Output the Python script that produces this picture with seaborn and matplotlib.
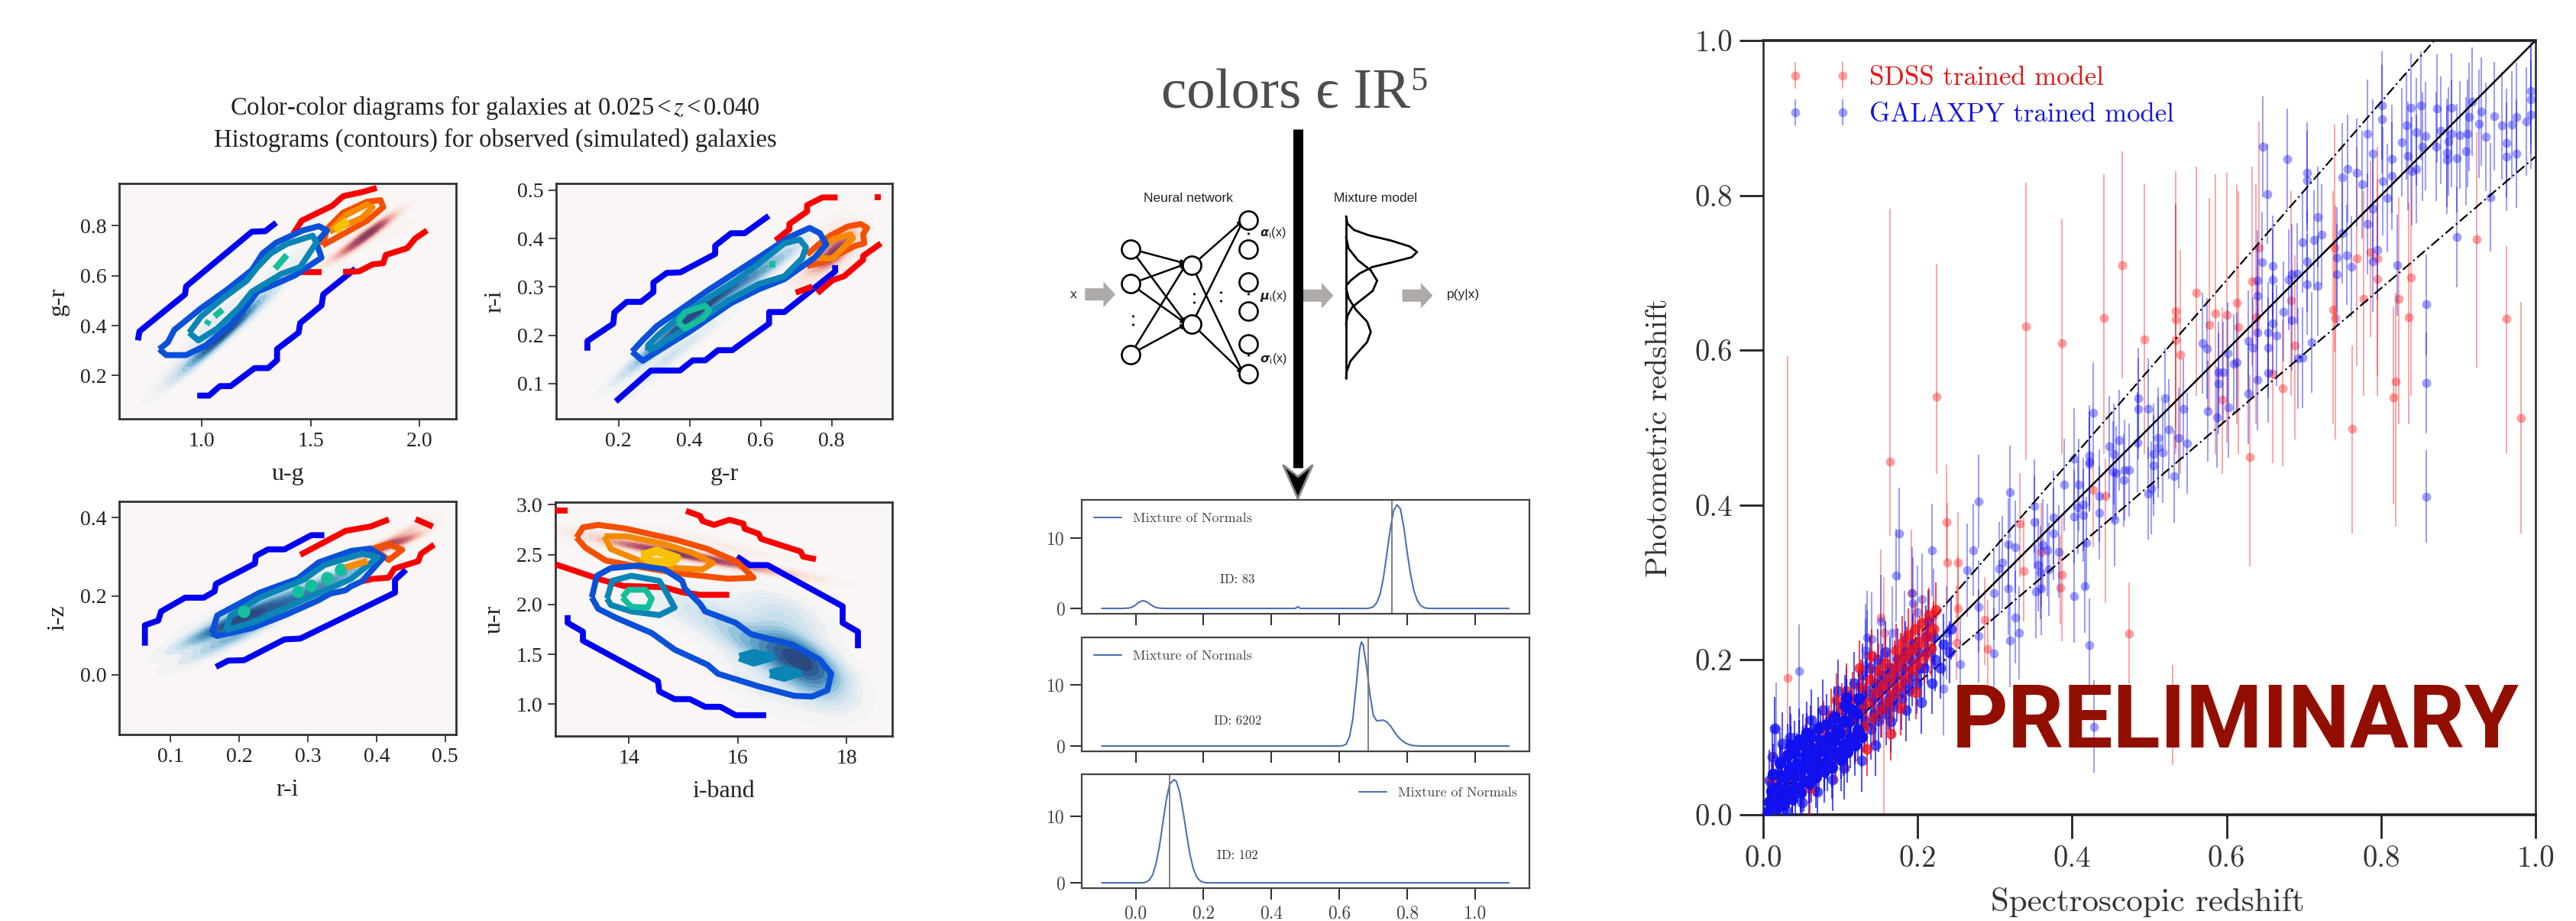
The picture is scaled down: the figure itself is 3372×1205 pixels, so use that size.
import numpy as np
import matplotlib
matplotlib.use('Agg')
import matplotlib.pyplot as plt
import seaborn as sns

FIG_W, FIG_H = 3373, 1205

# ---- colour-colour panels, (x, y)
p1_blue_up = [(.708,.341),(.715,.377),(.924,.525),(.929,.557),(1.231,.776),(1.292,.778),(1.342,.812)]
p1_blue_lo = [(.98,.120),(1.034,.120),(1.084,.158),(1.133,.158),(1.243,.230),(1.305,.230),(1.346,.262),(1.346,.306),(1.445,.372),(1.452,.410),(1.550,.481),(1.558,.525),(1.705,.628)]
p1_red_up = [(1.42,.767),(1.459,.82),(1.6,.88),(1.649,.918),(1.735,.934),(1.803,.951)]
p1_red_lo1 = [(1.428,.615),(1.55,.615)]
p1_red_lo2 = [(1.649,.615),(1.722,.617),(1.784,.645),(1.833,.650),(1.845,.683),(1.943,.710),(1.98,.749),(2.034,.781)]
p1_main = [(.806,.306),(.838,.282),(.929,.282),(1.022,.322),(1.133,.404),(1.199,.470),(1.256,.536),(1.342,.568),(1.428,.601),(1.550,.672),(1.526,.732),(1.575,.781),(1.538,.798),(1.464,.781),(1.342,.732),(1.280,.689),(1.231,.623),(1.120,.546),(.998,.470),(.875,.383),(.845,.333),(.806,.306)]
p1_teal = [(.943,.372),(.985,.341),(1.071,.388),(1.170,.470),(1.231,.536),(1.366,.607),(1.452,.634),(1.526,.732),(1.509,.760),(1.391,.727),(1.317,.689),(1.256,.634),(1.206,.579),(1.096,.508),(.998,.437),(.943,.372)]
p1_green = [[(1.022,.404),(1.034,.421)],[(1.059,.437),(1.096,.464)],[(1.337,.628),(1.391,.683)]]
p1_orred = [(1.555,.721),(1.759,.820),(1.833,.874),(1.821,.902),(1.759,.896),(1.649,.852),(1.575,.787),(1.555,.721)]
p1_orange = [(1.587,.776),(1.735,.831),(1.784,.874),(1.759,.885),(1.661,.842),(1.587,.776)]
p1_gold = [(1.612,.78),(1.67,.82)]
p1_dens_blue = [(1.05,.33,.5),(1.1,.37,.6),(1.15,.4,.5),(1.2,.45,.35),(1.0,.28,.3),(.9,.22,.12),(1.3,.5,.15),(1.25,.55,.15),(1.4,.62,.15),(1.05,.42,.2),(.95,.3,.15),(.85,.2,.06),(1.45,.7,.1)]
p1_dens_red = [(1.8,.79,1),(1.75,.76,.9),(1.7,.72,.8),(1.85,.83,.5),(1.65,.69,.4),(1.6,.67,.2),(1.65,.76,.2),(1.9,.78,.15)]

p2_blue_up = [(.112,.168),(.112,.188),(.185,.224),(.188,.247),(.223,.269),(.263,.269),(.298,.289),(.298,.309),(.336,.329),(.374,.330),(.472,.368),(.472,.385),(.517,.411),(.555,.411),(.623,.447)]
p2_blue_lo = [(.192,.063),(.291,.127),(.373,.127),(.409,.148),(.444,.148),(.480,.169),(.520,.169),(.624,.224),(.624,.248),(.667,.248),(.810,.332),(.810,.345)]
p2_red_up = [(.642,.396),(.681,.419),(.681,.430),(.731,.456),(.731,.469),(.774,.485),(.817,.485)]
p2_red_dot = [(.921,.485),(.939,.485)]
p2_red_lo = [(.760,.287),(.803,.314),(.835,.322),(.889,.356),(.889,.364),(.939,.390)]
p2_red_stub = [(.699,.288),(.746,.301)]
p2_main = [(.238,.166),(.268,.147),(.308,.166),(.401,.208),(.516,.266),(.595,.295),(.667,.316),(.753,.361),(.785,.388),(.767,.411),(.738,.422),(.681,.403),(.595,.361),(.452,.293),(.308,.219),(.268,.190),(.238,.166)]
p2_teal = [(.283,.168),(.308,.177),(.401,.219),(.509,.272),(.595,.306),(.667,.322),(.717,.359),(.728,.382),(.710,.398),(.667,.390),(.595,.348),(.523,.309),(.452,.277),(.366,.235),(.308,.198),(.283,.179),(.283,.168)]
p2_green = [(.366,.227),(.387,.248),(.444,.261),(.455,.251),(.437,.235),(.387,.214),(.366,.227)]
p2_green_dot = [(.624,.347),(.642,.347)]
p2_orred = [(.731,.343),(.774,.351),(.867,.385),(.892,.390),(.889,.409),(.900,.422),(.882,.430),(.846,.425),(.796,.406),(.767,.390),(.731,.367)]
p2_orange = [(.763,.359),(.803,.359),(.860,.401),(.853,.409),(.803,.398),(.774,.380),(.763,.359)]
p2_dens_blue = [(.3,.17,.7),(.35,.2,.8),(.4,.24,.9),(.45,.27,.9),(.5,.29,.8),(.55,.31,.7),(.6,.33,.6),(.65,.35,.5),(.3,.13,.2),(.35,.16,.3),(.45,.21,.2),(.22,.12,.1),(.28,.1,.08)]
p2_dens_red = [(.82,.38,1.0),(.8,.36,.8),(.76,.35,.4),(.85,.41,.3),(.72,.32,.2),(.8,.42,.2),(.87,.36,.15)]

p3_blue_up = [(.0625,.074),(.0625,.126),(.082,.138),(.086,.161),(.121,.196),(.148,.196),(.164,.212),(.166,.231),(.223,.283),(.224,.302),(.242,.319),(.266,.319),(.305,.355),(.324,.355)]
p3_blue_lo = [(.166,.020),(.184,.036),(.207,.037),(.266,.090),(.289,.092),(.427,.209),(.427,.241),(.443,.267)]
p3_red_up = [(.289,.305),(.355,.366),(.391,.377),(.418,.395)]
p3_red_stub = [(.457,.396),(.482,.377)]
p3_red_lo = [(.379,.238),(.395,.244),(.418,.247),(.426,.270),(.461,.289),(.465,.308),(.484,.331)]
p3_orred = [(.395,.321),(.418,.332),(.4375,.318),(.418,.292),(.395,.321)]
p3_main = [(.160,.106),(.168,.099),(.219,.119),(.270,.154),(.316,.190),(.332,.206),(.355,.215),(.363,.225),(.379,.238),(.410,.299),(.391,.321),(.363,.315),(.316,.286),(.285,.244),(.230,.209),(.168,.151),(.160,.106)]
p3_teal = [(.180,.113),(.223,.135),(.293,.190),(.363,.244),(.402,.299),(.379,.308),(.324,.279),(.293,.241),(.230,.196),(.1875,.151),(.180,.113)]
p3_green_x = [.207,.285,.305,.328,.348]
p3_green_y = [.161,.212,.228,.247,.267]
p3_gold = [(.355,.273),(.387,.289)]
p3_dens_blue = [(.17,.12,.4),(.2,.14,.5),(.25,.16,.4),(.3,.2,.3),(.33,.24,.25),(.37,.27,.2),(.2,.1,.25),(.17,.08,.15),(.15,.05,.05),(.25,.19,.25),(.18,.16,.12)]
p3_dens_red = [(.4,.32,.3),(.45,.37,.1),(.44,.34,.2)]

p4_blue_lo = [(12.879,1.893),(12.879,1.816),(13.159,1.727),(13.159,1.638),(14.537,1.230),(14.561,1.128),(14.841,1.051),(15.121,1.051),(15.402,.974),(15.682,.974),(15.963,.890),(16.523,.890)]
p4_blue_up = [(15.986,2.480),(16.220,2.395),(16.547,2.395),(17.925,1.982),(17.925,1.816),(18.206,1.727),(18.206,1.561)]
p4_red_up = [(15.051,2.939),(15.308,2.888),(15.355,2.837),(15.565,2.798),(15.846,2.849),(16.103,2.811),(16.126,2.760),(16.383,2.709),(16.430,2.658),(17.154,2.531),(17.201,2.480),(17.435,2.454)]
p4_red_lo = [(12.654,2.403),(13.486,2.250),(13.907,2.186),(14.654,2.173),(14.981,2.122),(15.308,2.097),(15.846,2.097)]
p4_red_stub = [(12.654,2.939),(12.879,2.939)]
p4_orred = [(13.042,2.671),(13.159,2.773),(13.439,2.798),(13.953,2.760),(14.888,2.645),(15.449,2.556),(15.986,2.429),(16.290,2.268),(15.822,2.258),(14.888,2.314),(14.187,2.378),(13.579,2.441),(13.206,2.569),(13.042,2.671)]
p4_orange = [(13.556,2.684),(13.953,2.684),(14.654,2.607),(15.168,2.518),(15.542,2.416),(15.355,2.352),(14.888,2.365),(14.187,2.441),(13.673,2.556),(13.556,2.684)]
p4_gold = [(14.234,2.492),(14.514,2.538),(14.888,2.467),(14.794,2.421),(14.421,2.429),(14.234,2.492)]
p4_main = [(13.322,2.071),(13.416,2.288),(13.673,2.365),(14.187,2.390),(14.654,2.352),(14.981,2.237),(15.028,2.161),(15.308,2.008),(15.402,1.931),(15.963,1.816),(16.243,1.702),(16.991,1.599),(17.505,1.446),(17.715,1.306),(17.645,1.140),(17.364,1.077),(17.037,1.084),(16.383,1.179),(15.636,1.306),(15.449,1.395),(14.841,1.548),(14.421,1.714),(13.766,1.867),(13.439,1.957),(13.322,2.071)]
p4_teal = [(13.603,2.059),(13.696,2.237),(14.047,2.288),(14.561,2.237),(14.701,2.110),(14.841,1.969),(14.561,1.893),(14.047,1.931),(13.673,1.995),(13.603,2.059)]
p4_green = [(13.883,2.071),(14.0,2.148),(14.304,2.148),(14.421,2.059),(14.350,1.969),(14.047,1.977),(13.883,2.071)]
p4_blob1 = [(16.033,1.472),(16.290,1.510),(16.617,1.472),(16.290,1.421),(16.033,1.472)]
p4_blob2 = [(16.593,1.306),(16.850,1.349),(17.107,1.314),(16.850,1.268),(16.593,1.306)]
p4_dens_blue = [(17.3,1.4,1.0),(17,1.55,.8),(17.3,1.2,.6),(16.5,1.5,.5),(16,1.7,.35),(16.5,1.9,.2),(17,1.9,.3),(15.5,1.9,.2),(15,2.0,.15),(16.5,1.1,.1),(16,1.3,.1),(14.5,2.0,.1),(17.3,.95,.05)]
p4_dens_red = [(14.0,2.6,.7),(14.5,2.55,.9),(15,2.5,.8),(15.5,2.45,.8),(16,2.4,.6),(16.5,2.35,.35),(17,2.3,.25),(13.5,2.7,.3),(15,2.7,.2),(16,2.55,.25),(13.2,2.6,.1)]

# ---- mixture density panels
pdf1 = [(-.1,0),(-.04,0),(-.02,.05),(-.01,.2),(0,.5),(.01,.9),(.02,1.1),(.03,1.0),(.04,.7),(.05,.35),(.06,.12),(.075,.02),(.09,0),(.47,0),(.478,.25),(.485,0),(.68,0),(.69,.05),(.70,.25),(.71,.8),(.72,2),(.73,4.4),(.74,7.8),(.75,11.3),(.76,14),(.77,14.8),(.78,14.2),(.79,11.6),(.80,8),(.81,4.8),(.82,2.5),(.83,1.1),(.84,.4),(.85,.1),(.86,.02),(.88,0),(1.1,0)]
pdf2 = [(-.1,0),(.6,0),(.61,.05),(.62,.3),(.63,1.5),(.64,4.5),(.65,10),(.66,15.8),(.665,16.9),(.67,16.5),(.68,13),(.69,8.5),(.70,5),(.71,4.1),(.72,4.15),(.73,4.2),(.74,3.9),(.75,3.3),(.76,2.5),(.77,1.7),(.78,1.1),(.79,.65),(.80,.35),(.81,.15),(.82,.06),(.84,0),(1.1,0)]
pdf3 = [(-.1,0),(.02,0),(.03,.1),(.04,.4),(.05,1.2),(.06,2.9),(.07,5.5),(.08,9),(.09,12.4),(.10,14.8),(.113,15.5),(.12,15.2),(.13,13.5),(.14,10.6),(.15,7.3),(.16,4.2),(.17,2.1),(.18,.85),(.19,.28),(.20,.07),(.21,0),(1.1,0)]
spec_z = [.755, .686, .1]
galaxy_ids = ['ID: 83', 'ID: 6202', 'ID: 102']

# ---- network sketch
input_nodes = [(206,746),(206,866),(206,1107)]
hidden_nodes = [(372,803),(372,1003)]
output_nodes = [(525,648),(525,746),(525,860),(525,958),(525,1070),(525,1173)]
mix_curve1 = [(788,635),(792,660),(810,682),(850,700),(910,718),(960,738),(980,757),(965,775),(910,793),(860,808),(825,830),(800,855),(790,870)]
mix_curve2 = [(788,705),(795,745),(820,785),(855,820),(872,855),(860,890),(830,920),(805,945),(792,975),(788,1005)]
mix_curve3 = [(788,880),(795,915),(815,955),(845,995),(855,1030),(845,1065),(820,1100),(800,1130),(790,1165),(788,1188)]

# ---- photo-z scatter, (spec z, photo z)
blue_top = [(.801,.916),(.839,.913),(.852,.916),(.872,.912),(.891,.913),(.930,.908),(.918,.921),(.994,.935),(.994,.924),(.994,.904),(.988,.895),(.975,.901),(.969,.891),(.956,.890),(.947,.902),(.936,.876),(.927,.892),(.914,.901),(.912,.880),(.902,.878),(.891,.880),(.877,.884),(.858,.877),(.846,.882),(.833,.890),(.827,.869),(.854,.863),(.871,.863),(.885,.855),(.887,.870),(.910,.857),(.898,.848),(.885,.846),(.835,.851),(.814,.847),(.789,.854),(.782,.880),(.801,.898),(.962,.868),(.962,.850),(.975,.854),(.942,.798),(.846,.834),(.840,.831),(.814,.825),(.802,.818),(.808,.797),(.775,.814),(.769,.829),(.757,.834),(.750,.823)]
blue_mid = [(.704,.829),(.704,.819),(.679,.847),(.647,.863),(.653,.802),(.718,.772),(.782,.763),(.789,.783),(.723,.749),(.713,.742),(.698,.739),(.750,.751),(.898,.746),(.795,.730),(.789,.715),(.756,.723),(.743,.720),(.762,.708),(.743,.698),(.821,.710),(.704,.715),(.691,.699),(.684,.698),(.660,.709),(.646,.714),(.660,.691),(.640,.690),(.681,.691),(.704,.685),(.718,.683),(.640,.670),(.674,.650),(.684,.639),(.660,.635),(.640,.623),(.654,.623),(.665,.619),(.628,.612),(.654,.603),(.634,.603),(.710,.610),(.698,.590),(.692,.589),(.613,.584),(.609,.582),(.601,.596),(.569,.609),(.575,.602),(.595,.572),(.590,.572),(.590,.557),(.640,.562),(.654,.571),(.628,.544),(.859,.659),(.859,.558),(.602,.526),(.576,.521),(.588,.513),(.544,.524),(.520,.538),(.499,.524),(.486,.538),(.486,.524),(.427,.519),(.525,.498),(.538,.487),(.549,.480),(.511,.487),(.511,.475),(.517,.468),(.505,.466),(.461,.484),(.448,.476),(.454,.466),(.485,.481),(.422,.464),(.422,.456),(.403,.460),(.505,.451),(.468,.445),(.453,.443)]
blue_low = [(.319,.417),(.279,.405),(.390,.426),(.409,.426),(.422,.453),(.474,.445),(.457,.441),(.467,.432),(.502,.422),(.499,.415),(.532,.437),(.435,.412),(.414,.401),(.408,.397),(.414,.387),(.403,.385),(.435,.390),(.351,.399),(.351,.378),(.376,.384),(.376,.363),(.176,.363),(.455,.381),(.318,.349),(.326,.346),(.272,.342),(.219,.342),(.362,.348),(.368,.342),(.383,.340),(.418,.351),(.310,.326),(.306,.318),(.264,.316),(.172,.309),(.356,.323),(.359,.313),(.370,.317),(.318,.292),(.299,.286),(.353,.288),(.360,.292),(.416,.295),(.403,.282),(.193,.286),(.194,.273),(.206,.278),(.200,.262),(.221,.258),(.326,.255),(.279,.269),(.331,.235),(.319,.225),(.279,.231),(.422,.219),(.299,.208),(.233,.163),(.255,.194),(.046,.186),(.017,.111),(.428,.114),(.135,.229),(.140,.227),(.133,.212),(.135,.205),(.167,.235),(.183,.229),(.237,.235),(.152,.250),(.133,.193),(.859,.411)]
blue_dense = [(.006,.004),(.008,.017),(.011,.031),(.013,.052),(.018,.009),(.021,.022),(.019,.036),(.024,.05),(.022,.067),(.027,.014),(.031,.029),(.029,.047),(.034,.058),(.032,.077),(.036,.09),(.038,.021),(.042,.036),(.04,.052),(.044,.066),(.041,.081),(.046,.097),(.048,.029),(.052,.044),(.05,.061),(.054,.076),(.051,.09),(.056,.106),(.059,.04),(.062,.056),(.06,.071),(.064,.086),(.061,.101),(.068,.049),(.072,.066),(.07,.08),(.074,.096),(.071,.112),(.079,.056),(.083,.071),(.081,.086),(.085,.101),(.082,.116),(.089,.061),(.093,.081),(.091,.096),(.095,.11),(.092,.126),(.101,.071),(.104,.09),(.099,.106),(.103,.12),(.106,.141),(.109,.081),(.113,.1),(.111,.12),(.114,.136),(.108,.151),(.119,.09),(.123,.11),(.121,.131),(.124,.15),(.128,.101),(.132,.121),(.13,.14),(.134,.161),(.129,.181),(.139,.111),(.143,.13),(.141,.151),(.144,.17),(.138,.19),(.149,.121),(.153,.14),(.151,.16),(.154,.181),(.148,.2),(.159,.13),(.163,.15),(.161,.171),(.164,.19),(.158,.21),(.169,.14),(.173,.16),(.171,.18),(.174,.201),(.179,.15),(.183,.171),(.181,.19),(.184,.21),(.189,.161),(.193,.18),(.191,.2),(.194,.22),(.199,.17),(.203,.19),(.201,.21),(.209,.19),(.213,.21),(.211,.23),(.214,.25),(.219,.17),(.223,.2),(.221,.23),(.229,.19),(.233,.22),(.241,.21),(.243,.24),(.015,.112),(.012,.075),(.025,.092),(.008,.044),(.035,.1),(.062,.122),(.077,.135),(.097,.16),(.118,.17),(.128,.07),(.145,.09),(.165,.12),(.185,.135),(.205,.145),(.105,.06),(.09,.045),(.07,.03),(.05,.016),(.03,.006)]
red_far = [(.164,.456,.783,.36),(.225,.540,.712,.44),(.340,.631,.816,.458),(.387,.609,.769,.466),(.441,.642,.827,.466),(.465,.710,.857,.564),(.494,.614,.814,.466),(.534,.651,.831,.50),(.534,.640,.787,.473),(.534,.613,.79,.466),(.540,.594,.730,.44),(.561,.674,.837,.541),(.578,.633,.797,.522),(.586,.648,.827,.466),(.600,.646,.829,.481),(.613,.661,.814,.504),(.615,.630,.806,.466),(.633,.689,.837,.579),(.638,.643,.814,.504),(.642,.732,.895,.617),(.594,.536,.655,.44),(.660,.570,.674,.454),(.673,.551,.640,.45),(.688,.606,.723,.485),(.683,.664,.806,.541),(.740,.732,.891,.598),(.738,.653,.806,.504),(.741,.642,.787,.485),(.763,.499,.606,.363),(.630,.462,.568,.321),(.769,.719,.863,.579),(.786,.727,.844,.617),(.795,.719,.863,.541),(.795,.692,.821,.568),(.777,.666,.806,.541),(.823,.666,.798,.504),(.839,.694,.833,.541),(.836,.643,.791,.504),(.819,.560,.674,.372),(.816,.539,.655,.401),(.924,.743,.882,.577),(.962,.641,.734,.466),(.981,.512,.662,.363),(.237,.378,.452,.326),(.238,.326,.403,.269),(.252,.326,.391,.25),(.332,.376,.441,.307),(.337,.315,.384,.25),(.360,.340,.403,.269),(.387,.310,.384,.224),(.385,.293,.361,.246),(.443,.412,.46,.273),(.427,.420,.46,.346),(.474,.234,.30,.170),(.530,.128,.193,.064),(.291,.214,.277,.155),(.287,.252,.307,.193),(.250,.222,.296,.174),(.252,.267,.334,.224),(.152,.255,.343,.193),(.192,.286,.368,.224),(.156,.235,.307,.0),(.032,.177,.592,.01)]
red_dense = [(.012,.045),(.021,.028),(.04,.05),(.055,.09),(.065,.06),(.072,.085),(.078,.112),(.085,.095),(.088,.128),(.094,.075),(.098,.11),(.102,.135),(.107,.09),(.112,.122),(.116,.15),(.12,.104),(.124,.135),(.127,.165),(.131,.115),(.135,.145),(.138,.175),(.142,.125),(.146,.158),(.149,.186),(.152,.135),(.155,.168),(.158,.195),(.161,.145),(.164,.178),(.167,.155),(.17,.19),(.172,.212),(.175,.165),(.178,.2),(.18,.222),(.183,.175),(.186,.208),(.188,.232),(.191,.187),(.194,.215),(.197,.24),(.2,.195),(.203,.222),(.206,.248),(.209,.205),(.212,.23),(.215,.258),(.218,.215),(.221,.24),(.224,.265),(.135,.085),(.165,.105),(.14,.205),(.125,.19),(.095,.148),(.108,.16),(.178,.138),(.198,.158),(.06,.035)]
one_to_one_x = [0, 1]
one_to_one_y = [0, 1]
upper_x = [0, .869]
upper_y = [0, 1]
lower_x = [0, 1]
lower_y = [0, .85]

sns.set_theme(style='ticks')
plt.rcParams['axes.unicode_minus'] = False
plt.rcParams['mathtext.fontset'] = 'dejavusans'

BG = '#f9f6f5'
BLUE_MAP = sns.blend_palette([BG, '#c4ddec', '#6caccf', '#2f6da3', '#2a3f78'], as_cmap=True)
RED_MAP = sns.blend_palette([BG, '#f9dcd4', '#eaa79c', '#bc5a6e', '#7e3a5f'], as_cmap=True)
C_OUTER = '#0000f5'
C_RED = '#fa0000'
C_MAIN = '#0a50d8'
C_TEAL = '#0b85b6'
C_GREEN = '#14bf9b'
C_ORRED = '#f44f00'
C_ORANGE = '#f58a00'
C_GOLD = '#f7c000'


def axes_px(fig, left, top, right, bottom):
    return fig.add_axes([left / FIG_W, 1 - bottom / FIG_H, (right - left) / FIG_W, (bottom - top) / FIG_H])


def path(ax, pts, color, lw=5.6, z=3):
    xs, ys = zip(*pts)
    sns.lineplot(x=list(xs), y=list(ys), sort=False, estimator=None, color=color, lw=lw, ax=ax, zorder=z,
                 solid_joinstyle='round', solid_capstyle='butt')


def density(ax, pts, cmap, bw=1.0):
    xs, ys, w = zip(*pts)
    sns.kdeplot(x=list(xs), y=list(ys), weights=list(w), fill=True, cmap=cmap, levels=14, thresh=.03,
                bw_adjust=bw, ax=ax, zorder=1)


def style_color_panel(ax, xlim, ylim, xticks, yticks, xlabel, ylabel, fmt='%.1f'):
    ax.set_xlim(xlim)
    ax.set_ylim(ylim)
    ax.set_facecolor(BG)
    ax.set_xticks(xticks)
    ax.set_yticks(yticks)
    ax.set_xticklabels([fmt % t for t in xticks])
    ax.set_yticklabels(['%.1f' % t for t in yticks])
    ax.tick_params(length=7, width=1.3, labelsize=20, pad=5, color='#333333', labelcolor='#222222')
    ax.set_xlabel(xlabel, fontsize=23, labelpad=12, color='#222222')
    ax.set_ylabel(ylabel, fontsize=23, labelpad=10, color='#222222')
    for s in ax.spines.values():
        s.set_visible(True)
        s.set_linewidth(2)
        s.set_color('#333333')
    ax.grid(False)


def main():
    fig = plt.figure(figsize=(33.73, 12.05), dpi=100, facecolor='white')
    plt.rcParams['font.family'] = ['Liberation Serif', 'DejaVu Serif']

    # colour-colour panels
    ax = axes_px(fig, 156, 240, 597, 548)
    density(ax, p1_dens_blue, BLUE_MAP)
    density(ax, p1_dens_red, RED_MAP)
    for pts in (p1_blue_up, p1_blue_lo):
        path(ax, pts, C_OUTER)
    for pts in (p1_red_up, p1_red_lo1, p1_red_lo2):
        path(ax, pts, C_RED)
    path(ax, p1_orred, C_ORRED, z=4)
    path(ax, p1_orange, C_ORANGE, z=4)
    path(ax, p1_gold, C_GOLD, lw=8, z=4)
    path(ax, p1_main, C_MAIN, z=5)
    path(ax, p1_teal, C_TEAL, z=5)
    for pts in p1_green:
        path(ax, pts, C_GREEN, lw=6, z=6)
    style_color_panel(ax, (.622, 2.167), (.027, .969), [1.0, 1.5, 2.0], [.2, .4, .6, .8], 'u-g', 'g-r')

    ax = axes_px(fig, 728, 240, 1168, 548)
    density(ax, p2_dens_blue, BLUE_MAP, bw=.9)
    density(ax, p2_dens_red, RED_MAP, bw=1.1)
    for pts in (p2_blue_up, p2_blue_lo):
        path(ax, pts, C_OUTER)
    for pts in (p2_red_up, p2_red_dot, p2_red_lo, p2_red_stub):
        path(ax, pts, C_RED)
    path(ax, p2_orred, C_ORRED, z=4)
    path(ax, p2_orange, C_ORANGE, z=4)
    path(ax, p2_main, C_MAIN, z=5)
    path(ax, p2_teal, C_TEAL, z=5)
    path(ax, p2_green, C_GREEN, z=6)
    path(ax, p2_green_dot, C_GREEN, lw=6, z=6)
    style_color_panel(ax, (.024, .971), (.027, .514), [.2, .4, .6, .8], [.1, .2, .3, .4, .5], 'g-r', 'r-i')

    ax = axes_px(fig, 156, 656, 597, 961)
    density(ax, p3_dens_blue, BLUE_MAP)
    density(ax, p3_dens_red, RED_MAP)
    for pts in (p3_blue_up, p3_blue_lo):
        path(ax, pts, C_OUTER)
    for pts in (p3_red_up, p3_red_stub, p3_red_lo):
        path(ax, pts, C_RED)
    path(ax, p3_orred, C_ORRED, z=4)
    path(ax, p3_main, C_MAIN, z=5)
    path(ax, p3_teal, C_TEAL, z=5)
    sns.scatterplot(x=p3_green_x, y=p3_green_y, color=C_GREEN, s=140, linewidth=0, ax=ax, zorder=6)
    path(ax, p3_gold, C_ORANGE, lw=6, z=6)
    style_color_panel(ax, (.025, .516), (-.152, .441), [.1, .2, .3, .4, .5], [0.0, .2, .4], 'r-i', 'i-z')

    ax = axes_px(fig, 727, 657, 1168, 963)
    density(ax, p4_dens_blue, BLUE_MAP, bw=.9)
    density(ax, p4_dens_red, RED_MAP, bw=.9)
    path(ax, p4_blue_lo, C_OUTER)
    path(ax, p4_blue_up, C_OUTER)
    for pts in (p4_red_up, p4_red_lo, p4_red_stub):
        path(ax, pts, C_RED)
    path(ax, p4_orred, C_ORRED, z=4)
    path(ax, p4_orange, C_ORANGE, z=4)
    path(ax, p4_gold, C_GOLD, lw=8, z=4)
    path(ax, p4_main, C_MAIN, z=5)
    path(ax, p4_teal, C_TEAL, z=5)
    path(ax, p4_green, C_GREEN, z=6)
    path(ax, p4_blob1, C_TEAL, lw=8, z=6)
    path(ax, p4_blob2, C_TEAL, lw=8, z=6)
    style_color_panel(ax, (12.654, 18.836), (.681, 3.026), [14, 16, 18], [1.0, 1.5, 2.0, 2.5, 3.0], 'i-band', 'u-r', fmt='%d')

    fig.text(648 / FIG_W, 1 - 141 / FIG_H, r'Color-color diagrams for galaxies at 0.025$\,$<$\,$$z$$\,$<$\,$0.040',
             ha='center', va='center', fontsize=23.5, color='#222222', math_fontfamily='stix')
    fig.text(648 / FIG_W, 1 - 183 / FIG_H, 'Histograms (contours) for observed (simulated) galaxies',
             ha='center', va='center', fontsize=23.5, color='#222222')

    # network sketch, drawn in its own flat axes
    sk = axes_px(fig, 1380, 40, 2140, 660)
    sk.set_xlim(0, 1568)
    sk.set_ylim(1620, 0)
    sk.axis('off')
    sk.patch.set_alpha(0)
    sk.text(288, 265, 'colors \u03f5 IR', fontsize=54, color='#4d4d4d', va='baseline', ha='left',
            family=['Liberation Serif', 'DejaVu Serif'])
    sk.text(962, 205, '5', fontsize=32, color='#4d4d4d', va='baseline', ha='left')
    sans = ['Liberation Sans', 'DejaVu Sans']
    for x, y, s in [(362, 573, 'Neural network'), (868, 573, 'Mixture model'), (52, 902, 'x'), (1104, 903, 'p(y|x)')]:
        sk.text(x, y, s, fontsize=12.5, ha='center', va='center', family=sans, color='#222222')
    for y, sym in [(690, r'\alpha'), (907, r'\mu'), (1123, r'\sigma')]:
        sk.text(555, y, r'$\boldsymbol{%s}_{\mathrm{i}}$(x)' % sym, fontsize=11.5, ha='left', va='center', family=sans, color='#222222')

    for xa, ya in input_nodes:
        for xb, yb in hidden_nodes:
            sk.annotate('', xy=(xb - 15, yb - 6 if yb == 803 else yb), xytext=(xa, ya),
                        arrowprops=dict(arrowstyle='-|>', lw=1.8, color='black', shrinkA=5, shrinkB=0, mutation_scale=9))
    for xa, ya in hidden_nodes:
        for xb, yb in (output_nodes[0], output_nodes[-1]):
            sk.annotate('', xy=(xb - 14, yb), xytext=(xa, ya),
                        arrowprops=dict(arrowstyle='-|>', lw=1.8, color='black', shrinkA=5, shrinkB=0, mutation_scale=9))
    nx, ny = zip(*(input_nodes + hidden_nodes + output_nodes))
    sns.scatterplot(x=list(nx), y=list(ny), s=300, color='white', edgecolor='black', linewidth=1.9, ax=sk, zorder=5, legend=False)
    sk.set_xlim(0, 1568)
    sk.set_ylim(1620, 0)
    for x, y0, y1 in [(212, 972, 1018), (377, 895, 940), (450, 890, 935), (525, 690, 712), (525, 895, 925), (525, 1105, 1135)]:
        sk.plot([x, x], [y0, y1], color='black', lw=2, ls=(0, (1, 3)), zorder=6)
    for pts in (mix_curve1, mix_curve2, mix_curve3):
        xs, ys = zip(*pts)
        sk.plot(xs, ys, color='black', lw=2, solid_joinstyle='round')
    sk.plot([788, 788], [635, 1188], color='black', lw=2)
    arrow_x = np.array([0, 50, 50, 82, 50, 50, 0])
    arrow_y = np.array([-21, -21, -44, 0, 44, 21, 21])
    for x0, y0 in [(83, 902), (672, 906), (940, 906)]:
        sk.fill(arrow_x + x0, arrow_y + y0, color='#aeaaa8', lw=0, zorder=1)
    sk.plot([658, 658], [338, 1495], color='black', lw=9.4, solid_capstyle='butt', zorder=7)
    sk.fill([618, 658, 698, 658], [1485, 1525, 1485, 1600], facecolor='black', edgecolor='#858585', lw=2, zorder=8)

    # mixture density panels
    plt.rcParams['font.family'] = ['cmr10', 'DejaVu Serif']
    boxes = [(654, 803), (834, 983), (1013, 1162)]
    lims = [(-.76, 15.5), (-.86, 17.64), (-.8, 16.3)]
    for i, (pdf, box, ylim) in enumerate(zip((pdf1, pdf2, pdf3), boxes, lims)):
        ax = axes_px(fig, 1416, box[0], 2002, box[1])
        xs, ys = zip(*pdf)
        sns.lineplot(x=list(xs), y=list(ys), sort=False, estimator=None, color='#4c72b0', lw=1.5, ax=ax, label='Mixture of Normals')
        ax.axvline(spec_z[i], color='#777777', lw=1.3)
        ax.set_xlim(-.159, 1.160)
        ax.set_ylim(ylim)
        ax.set_xticks([0, .2, .4, .6, .8, 1.0])
        ax.set_yticks([0, 10])
        ax.tick_params(length=11, width=1.5, labelsize=17, color='#333333', labelcolor='#444444', pad=5)
        if i < 2:
            ax.set_xticklabels([])
        else:
            ax.set_xticklabels(['%.1f' % t for t in [0, .2, .4, .6, .8, 1.0]])
        ax.text(.3, 4.1, galaxy_ids[i], fontsize=12, ha='center', va='center', color='#333333')
        ax.legend(loc='upper right' if i == 2 else 'upper left', frameon=False, fontsize=13, labelcolor='#444444')
        for s in ax.spines.values():
            s.set_visible(True)
            s.set_linewidth(1.6)
            s.set_color('#444444')

    # photo-z scatter
    ax = axes_px(fig, 2308, 53, 3319, 1066)
    ax.set_xlim(0, 1)
    ax.set_ylim(0, 1)
    ebar = dict(fmt='o', ms=8.5, mew=0, alpha=.4)
    rf = np.array(red_far)
    red_h = ax.errorbar(rf[:, 0], rf[:, 1], yerr=[rf[:, 1] - rf[:, 3], rf[:, 2] - rf[:, 1]], color='#fa1010',
                        elinewidth=1.3, zorder=2, **ebar)
    blue_h = None
    for pts, err in ((blue_top, .07), (blue_mid, .065), (blue_low, .06)):
        p = np.array(pts)
        blue_h = ax.errorbar(p[:, 0], p[:, 1], yerr=err, color='#1010f0', elinewidth=1.5, zorder=3, **ebar)
    sns.lineplot(x=one_to_one_x, y=one_to_one_y, color='black', lw=1.8, ax=ax, zorder=4)
    sns.lineplot(x=upper_x, y=upper_y, color='black', lw=1.6, ls=(0, (6, 2, 1, 2)), ax=ax, zorder=4)
    sns.lineplot(x=lower_x, y=lower_y, color='black', lw=1.6, ls=(0, (6, 2, 1, 2)), ax=ax, zorder=4)
    # the crowded low-redshift end is overdrawn so the blobs go solid
    p = np.array(blue_dense)
    for z in (5, 8):
        ax.errorbar(p[:, 0], p[:, 1], yerr=.04, color='#1010f0', elinewidth=1.5, zorder=z,
                    fmt='o', ms=10, mew=0, alpha=.45)
    p = np.array(red_dense)
    for z in (6, 9):
        ax.errorbar(p[:, 0], p[:, 1], yerr=.035, color='#fa1010', elinewidth=1.5, zorder=z,
                    fmt='o', ms=10, mew=0, alpha=.5)
    p = np.array(blue_dense[:62])
    for z in (10, 11, 12):
        ax.errorbar(p[:, 0], p[:, 1], yerr=.025, color='#1010f0', elinewidth=1.5, zorder=z,
                    fmt='o', ms=11, mew=0, alpha=.55)

    ax.set_xticks([0, .2, .4, .6, .8, 1.0])
    ax.set_yticks([0, .2, .4, .6, .8, 1.0])
    labels = ['%.1f' % t for t in [0, .2, .4, .6, .8, 1.0]]
    ax.set_xticklabels(labels)
    ax.set_yticklabels(labels)
    ax.tick_params(length=22, width=2, labelsize=28, color='#222222', labelcolor='#333333', pad=7)
    for s in ax.spines.values():
        s.set_visible(True)
        s.set_linewidth(1.8)
        s.set_color('#222222')
    ax.spines['top'].set_linewidth(2.6)
    ax.spines['bottom'].set_linewidth(2.6)
    ax.spines['top'].set_zorder(10)
    leg = ax.legend(handles=[red_h, blue_h], labels=['SDSS trained model', 'GALAXPY trained model'], numpoints=2,
                    loc='upper left', bbox_to_anchor=(0.0, .998), frameon=False, fontsize=25, handletextpad=.7,
                    labelspacing=.48, handlelength=2.4)
    for txt, col in zip(leg.get_texts(), ('#e01818', '#1414e0')):
        txt.set_color(col)
    fig.text(2811 / FIG_W, 1 - 1180 / FIG_H, 'Spectroscopic redshift', fontsize=31, ha='center', va='center', color='#333333')
    fig.text(2172 / FIG_W, 1 - 573 / FIG_H, 'Photometric redshift', fontsize=29, rotation=90, ha='center', va='center', color='#333333')
    fig.text(2926 / FIG_W, 1 - 947 / FIG_H, 'PRELIMINARY', fontsize=82.5, fontweight='bold', ha='center', va='center',
             color='#920f00', family=['Roboto', 'DejaVu Sans'], zorder=20)

    fig.savefig('out.png', dpi=100)


if __name__ == "__main__":
    main()
